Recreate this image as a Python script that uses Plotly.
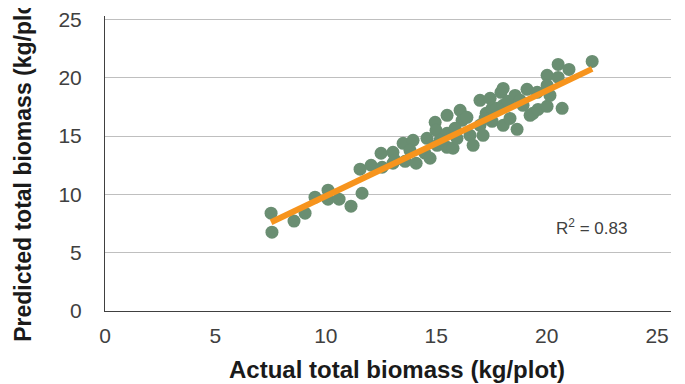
import plotly.graph_objects as go

# Actual vs predicted total biomass (kg/plot)
actual = [7.52, 7.56, 8.56, 9.06, 9.51, 10.10, 10.10, 10.60, 11.14, 11.64,
          11.55, 12.05, 12.50, 12.55, 13.04, 13.04, 13.50, 13.59, 13.95, 14.09,
          14.49, 14.58, 14.72, 14.95, 14.99, 15.04, 15.49, 15.49, 15.49, 15.76,
          15.94, 16.08, 16.17, 16.39, 16.53, 16.67, 16.98, 16.98, 17.12, 17.26,
          17.44, 17.53, 17.53, 17.75, 17.93, 18.03, 18.03, 18.03, 18.25, 18.34,
          18.57, 18.66, 18.93, 19.11, 19.25, 19.38, 19.57, 19.61, 20.02, 20.02,
          20.02, 20.15, 20.52, 20.52, 20.70, 21.01, 22.06,
          15.85, 17.21, 18.80, 15.17, 13.81, 13.13]
predicted = [8.39, 6.76, 7.71, 8.39, 9.76, 10.36, 9.59, 9.59, 8.99, 10.10,
             12.16, 12.50, 13.53, 12.33, 13.61, 12.67, 14.38, 12.84, 14.64, 12.67,
             13.53, 14.81, 13.10, 16.18, 15.50, 14.21, 16.78, 15.24, 14.04, 13.96,
             14.81, 17.21, 16.35, 16.61, 15.07, 14.21, 18.07, 15.92, 15.07, 16.95,
             18.24, 17.38, 16.27, 17.38, 18.75, 17.64, 19.09, 15.92, 17.98, 16.52,
             18.49, 15.58, 17.64, 19.01, 16.78, 16.95, 18.75, 17.29, 20.21, 19.35,
             17.55, 18.49, 21.15, 20.03, 17.38, 20.72, 21.40,
             15.67, 16.52, 18.07, 14.64, 13.78, 12.93]

# Linear trendline coefficients
trend_slope = 0.905
trend_intercept = 0.80
r_squared = 0.83

x_ticks = [0, 5, 10, 15, 20, 25]
y_ticks = [0, 5, 10, 15, 20, 25]

trend_x = [min(actual), max(actual)]
trend_y = [trend_slope * v + trend_intercept for v in trend_x]

fig = go.Figure()
fig.add_trace(go.Scatter(
    x=actual, y=predicted, mode="markers",
    marker=dict(size=13, color="#6a8e72", line=dict(width=0)),
    showlegend=False, hoverinfo="x+y"))
fig.add_trace(go.Scatter(
    x=trend_x, y=trend_y, mode="lines",
    line=dict(color="#f7941d", width=6),
    showlegend=False, hoverinfo="skip"))

fig.add_annotation(
    x=22.05, y=7.2, xref="x", yref="y",
    text=f"R<sup>2</sup> = {r_squared:.2f}", showarrow=False,
    font=dict(family="Liberation Sans, Arial, sans-serif", size=17, color="#404040"))

tick_font = dict(family="Liberation Sans, Arial, sans-serif", size=21, color="#404040")
title_font = dict(family="Liberation Sans, Arial, sans-serif", size=24, color="#1a1a1a")
ytitle_font = dict(family="Liberation Sans, Arial, sans-serif", size=23, color="#1a1a1a")

# x-axis title as a paper annotation so it can sit slightly right of centre
fig.add_annotation(
    x=0.516, y=0, xref="paper", yref="paper", yanchor="top", yshift=-43,
    text="<b>Actual total biomass (kg/plot)</b>", showarrow=False, font=title_font)

fig.update_layout(
    width=677, height=376,
    margin=dict(l=97, r=14, t=7.5, b=73, autoexpand=False),
    paper_bgcolor="white", plot_bgcolor="white",
    xaxis=dict(
        range=[0, 25.63], tickvals=x_ticks, ticktext=[str(v) for v in x_ticks],
        showgrid=False, zeroline=False, showline=True, linecolor="#404040", linewidth=1,
        ticks="", tickfont=tick_font, ticklabelstandoff=6,
        automargin=False),
    yaxis=dict(
        range=[0, 25.3], tickvals=y_ticks, ticktext=[str(v) for v in y_ticks],
        showgrid=True, gridcolor="#bfbfbf", gridwidth=1, zeroline=False,
        showline=True, linecolor="#404040", linewidth=1,
        ticks="", tickfont=tick_font, ticklabelstandoff=18, ticklabeloverflow="allow",
        title=dict(text="<b>Predicted total biomass (kg/plot)</b>", font=ytitle_font, standoff=20),
        automargin=False),
)

fig.write_html("out.html")
